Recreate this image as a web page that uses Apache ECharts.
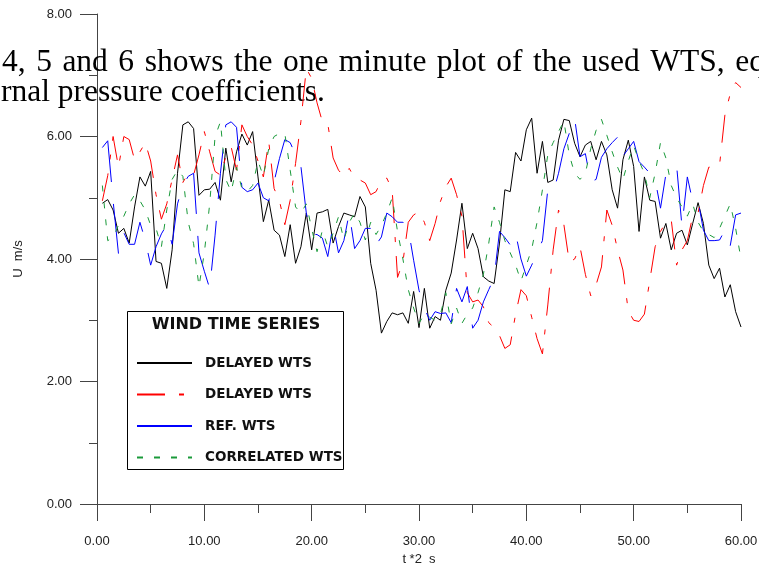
<!DOCTYPE html>
<html>
<head>
<meta charset="utf-8">
<title>Wind time series</title>
<script src="https://cdn.jsdelivr.net/npm/echarts@6/dist/echarts.min.js"></script>
<style>
  html, body { margin: 0; padding: 0; background: #fff; }
  #chart { width: 759px; height: 569px; }
</style>
</head>
<body>
<div id="chart"></div>
<script>
  // samples every 0.5 (t *2 s)
  var step = 0.5;

  var delayedWts = [
    4.91, 4.97, 4.80, 4.42, 4.50, 4.26, 4.85, 5.34, 5.19, 5.43,
    3.96, 3.93, 3.52, 4.15, 5.40, 6.19, 6.24, 6.13, 5.04, 5.13,
    5.14, 5.25, 4.96, 5.81, 5.26, 5.75, 6.04, 5.86, 6.08, 5.34,
    4.61, 4.96, 4.47, 4.39, 4.04, 4.56, 3.93, 4.20, 4.75, 4.15,
    4.75, 4.77, 4.81, 4.26, 4.53, 4.75, 4.72, 4.69, 5.02, 4.85,
    3.93, 3.49, 2.79, 2.98, 3.12, 3.09, 3.12, 2.95, 3.47, 2.88,
    3.52, 2.87, 3.06, 3.00, 3.49, 3.77, 4.31, 4.91, 4.17, 4.42,
    4.17, 3.71, 3.64, 3.60, 4.26, 5.13, 5.10, 5.74, 5.60, 6.11,
    6.30, 5.40, 5.92, 5.25, 5.29, 5.94, 6.28, 6.26, 5.89, 5.67,
    5.86, 5.92, 5.62, 5.92, 5.70, 5.13, 4.83, 5.62, 5.94, 5.51,
    4.45, 5.34, 4.96, 4.94, 4.34, 4.58, 4.15, 4.42, 4.47, 4.23,
    4.58, 4.92, 4.58, 3.90, 3.68, 3.85, 3.38, 3.58, 3.14, 2.89
  ];

  var delayedWts2 = [
    4.95, 5.36, 6.00, 5.50, 6.00, 5.95, 5.62, 5.75, 5.90, 5.60,
    5.05, 4.65, 4.90, 5.30, 5.70, 5.25, 5.40, 5.37, 5.70, 6.08,
    5.75, 5.43, 5.37, 5.67, 5.83, 5.45, 6.19, 6.00, 5.86, 5.60,
    5.34, 5.92, 5.15, 4.95, 4.56, 4.96, 5.56, 6.25, 7.11, 6.95,
    6.55, 6.24, 6.21, 5.65, 5.45, 5.35, 5.48, 5.32, 5.29, 5.24,
    5.05, 5.10, 5.29, 5.32, 5.13, 3.70, 3.95, 4.60, 4.72, 4.77,
    4.60, 4.30, 4.58, 4.94, 5.18, 5.32, 5.05, 4.70, 3.45, 3.30,
    3.33, 3.22, 2.96, 2.88, 2.75, 2.54, 2.60, 3.10, 3.50, 3.40,
    3.05, 2.70, 2.45, 3.25, 4.15, 4.80, 4.56, 3.95, 4.00, 4.20,
    3.75, 3.40, 3.58, 3.87, 4.80, 4.55, 4.15, 3.82, 3.15, 3.00,
    2.98, 3.10, 3.65, 4.20, 4.45, 4.60, 4.64, 3.90, 4.15, 4.30,
    4.70, 4.75, 5.20, 5.50, 5.50, 5.53, 6.35, 6.70, 6.88, 6.80
  ];

  var refWts = [
    5.82, 5.93, 4.95, 4.09, 4.43, 4.24, 4.24, 4.60, 4.30, 3.90,
    4.20, 4.41, 4.56, 4.24, 4.90, 5.20, 5.35, 5.40, 4.10, 3.80,
    3.52, 4.39, 5.40, 6.19, 6.24, 6.15, 5.17, 5.10, 5.13, 5.24,
    5.00, 4.95, 5.26, 5.64, 5.95, 5.90, 5.70, 5.51, 4.75, 4.40,
    4.40, 4.34, 4.04, 4.56, 4.10, 4.30, 4.75, 4.17, 4.30, 4.50,
    4.50, 4.23, 4.36, 4.75, 4.69, 4.60, 4.60, 4.50, 3.98, 3.49,
    3.20, 3.00, 3.14, 3.11, 3.12, 2.96, 3.52, 3.30, 3.55, 2.87,
    3.00, 3.30, 3.50, 3.69, 4.45, 4.35, 4.23, 4.42, 4.00, 3.72,
    3.90, 4.10, 4.30, 5.13, 5.08, 5.40, 5.80, 6.05, 6.30, 5.67,
    5.72, 5.26, 5.30, 5.66, 5.80, 5.90, 5.99, 5.68, 5.80, 5.92,
    5.59, 5.50, 5.40, 5.30, 4.83, 5.38, 5.45, 5.53, 4.53, 5.34,
    4.94, 4.95, 4.47, 4.30, 4.30, 4.31, 4.47, 4.22, 4.72, 4.75
  ];

  var correlatedWts = [
    5.20, 4.30, 4.35, 4.55, 4.70, 4.90, 5.05, 4.95, 4.80, 4.55,
    4.50, 4.20, 4.80, 5.30, 5.45, 5.35, 4.60, 4.25, 3.55, 4.10,
    4.90, 6.00, 6.24, 5.30, 5.10, 5.50, 5.15, 5.10, 5.20, 5.60,
    5.35, 5.80, 6.00, 6.05, 6.05, 5.45, 4.85, 4.75, 4.90, 4.50,
    4.12, 4.47, 4.20, 4.42, 4.69, 4.31, 4.60, 4.75, 4.60, 4.31,
    4.60, 4.40, 4.55, 4.75, 5.00, 4.45, 4.00, 3.50, 3.20, 2.95,
    3.10, 3.05, 3.00, 3.10, 3.45, 2.94, 3.20, 2.95, 3.10, 3.20,
    3.45, 3.75, 4.26, 4.85, 4.60, 4.30, 4.10, 3.90, 3.64, 3.90,
    4.16, 4.60, 5.13, 5.70, 5.90, 6.08, 6.25, 5.70, 5.40, 5.30,
    5.40, 5.80, 6.10, 6.28, 6.02, 5.75, 5.50, 5.30, 5.60, 5.85,
    5.60, 5.40, 5.00, 5.40, 5.90, 5.65, 5.20, 5.00, 4.85, 4.70,
    4.90, 4.60, 4.45, 4.40, 4.35, 4.50, 4.70, 4.90, 4.50, 4.00
  ];

  var seriesNames = ['DELAYED WTS', 'DELAYED WTS ', 'REF. WTS', 'CORRELATED WTS'];
  var xTicks = [0, 10, 20, 30, 40, 50, 60];
  var yTicks = [0, 2, 4, 6, 8];

  // page text that sits behind the plot (first line is justified, hence the wider gaps)
  var lineOneWords = ['4,', '5', 'and', '6', 'shows', 'the', 'one', 'minute', 'plot', 'of', 'the', 'used', 'WTS,', 'eq'];
  var lineTwo = 'rnal pressure coefficients.';

  function pairs(values) {
    return values.map(function (v, i) { return [(i + 1) * step, v]; });
  }

  var font = 'Liberation Sans';
  var legendFont = 'DejaVu Sans';
  var axisColor = '#444';
  var pageFont = '31.5px "Liberation Serif"';

  var chart = echarts.init(document.getElementById('chart'), null, { renderer: 'canvas' });

  chart.setOption({
    animation: false,
    backgroundColor: '#fff',
    textStyle: { fontFamily: font },
    grid: { left: 97, right: 18, top: 14, bottom: 65, containLabel: false, outerBoundsMode: 'none' },
    legend: {
      orient: 'vertical',
      left: 131,
      top: 351,
      itemWidth: 55,
      itemHeight: 14,
      itemGap: 17.5,
      selectedMode: false,
      itemStyle: { opacity: 0 },
      textStyle: { fontFamily: legendFont, fontWeight: 'bold', fontSize: 13.5, color: '#111', padding: [0, 0, 0, 8] },
      data: [
        { name: seriesNames[0] },
        { name: seriesNames[1] },
        { name: seriesNames[2], lineStyle: { type: 'solid' } },
        { name: seriesNames[3] }
      ]
    },
    graphic: [
      {
        type: 'text', left: 2, top: 47, z: 1, silent: true,
        style: { text: lineOneWords.join(' \u200A'), font: pageFont, fill: '#000' }
      },
      {
        type: 'text', left: 1, top: 77, z: 1, silent: true,
        style: { text: lineTwo, font: pageFont, fill: '#000' }
      },
      {
        type: 'rect', z: 3, silent: true,
        shape: { x: 127.5, y: 311.5, width: 216, height: 158 },
        style: { fill: '#fff', stroke: '#000', lineWidth: 1 }
      },
      {
        type: 'text', z: 4, silent: true, x: 236, y: 325,
        style: { text: 'WIND TIME SERIES', font: 'bold 16px "DejaVu Sans"', fill: '#111', align: 'center', verticalAlign: 'middle' }
      }
    ],
    xAxis: {
      type: 'value',
      min: xTicks[0],
      max: xTicks[xTicks.length - 1],
      interval: 10,
      name: 't *2  s',
      nameLocation: 'middle',
      nameGap: 47,
      nameTextStyle: { fontSize: 13, color: '#222' },
      axisLine: { onZero: false, lineStyle: { color: axisColor, width: 1 } },
      axisTick: { length: 17, lineStyle: { color: axisColor } },
      minorTick: { show: true, splitNumber: 2, length: 9, lineStyle: { color: axisColor } },
      axisLabel: { margin: 31, fontSize: 13, color: '#222', formatter: function (v) { return v.toFixed(2); } },
      splitLine: { show: false }
    },
    yAxis: {
      type: 'value',
      min: yTicks[0],
      max: yTicks[yTicks.length - 1],
      interval: 2,
      name: 'U  m/s',
      nameLocation: 'middle',
      nameGap: 72,
      nameRotate: 90,
      nameTextStyle: { fontSize: 13, color: '#222' },
      axisLine: { show: true, onZero: false, lineStyle: { color: axisColor, width: 1 } },
      axisTick: { show: true, length: 17, lineStyle: { color: axisColor } },
      minorTick: { show: true, splitNumber: 2, length: 8, lineStyle: { color: axisColor } },
      axisLabel: { margin: 25, fontSize: 13, color: '#222', formatter: function (v) { return v.toFixed(2); } },
      splitLine: { show: false }
    },
    series: [
      {
        name: seriesNames[0], type: 'line', data: pairs(delayedWts),
        symbol: 'none', color: '#000',
        lineStyle: { color: '#000', width: 1, type: 'solid' }
      },
      {
        name: seriesNames[1], type: 'line', data: pairs(delayedWts2),
        symbol: 'none', color: '#ff0000',
        lineStyle: { color: '#ff0000', width: 1, type: [28, 14, 5, 14] }
      },
      {
        name: seriesNames[2], type: 'line', data: pairs(refWts),
        symbol: 'none', color: '#0000ff',
        lineStyle: { color: '#0000ff', width: 1, type: [50, 22] }
      },
      {
        name: seriesNames[3], type: 'line', data: pairs(correlatedWts),
        symbol: 'none', color: '#1a9a3a',
        lineStyle: { color: '#1a9a3a', width: 1, type: [6, 11] }
      }
    ]
  });
</script>
</body>
</html>
